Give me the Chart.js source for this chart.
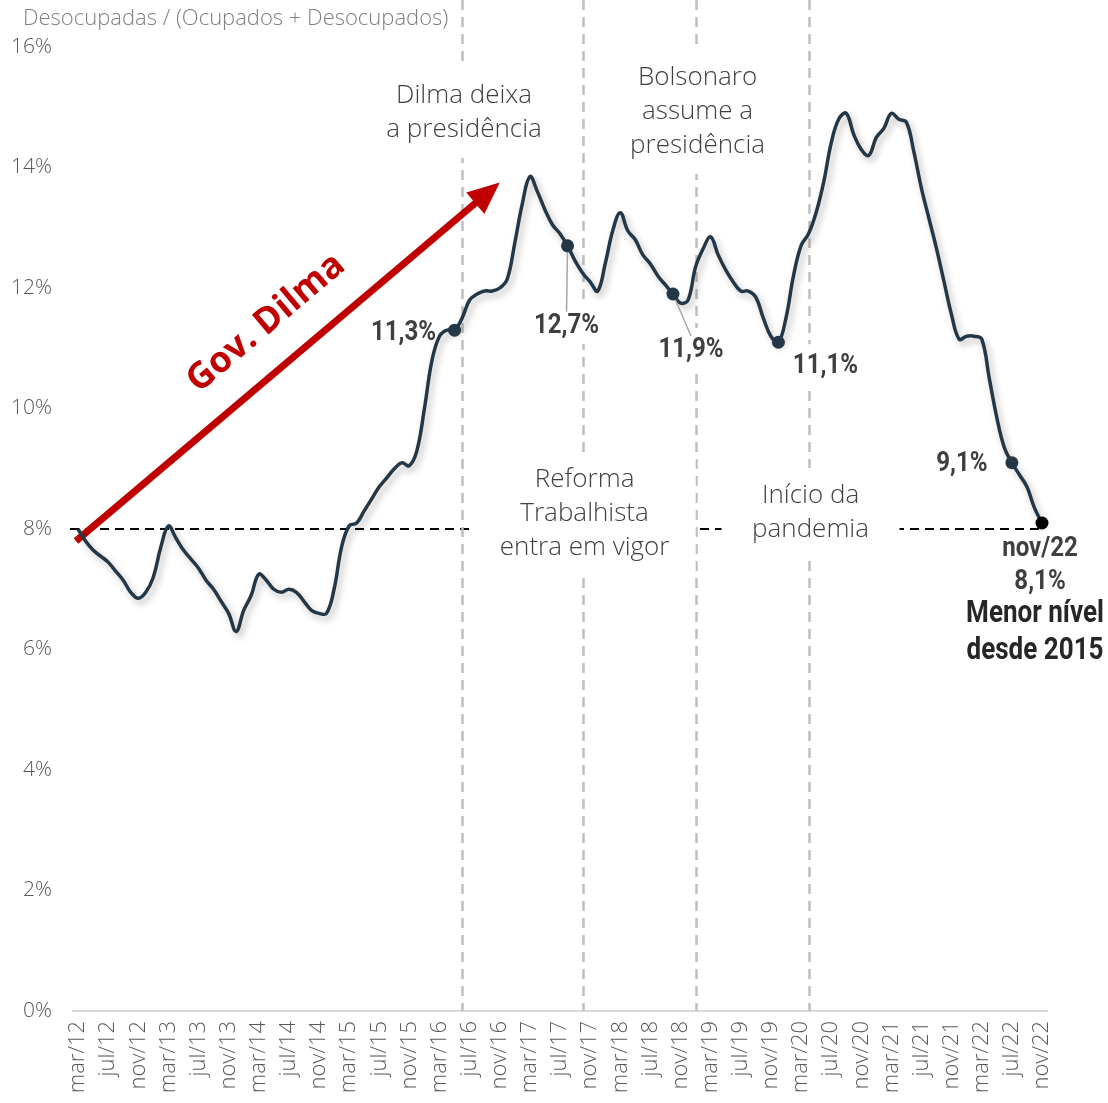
<!DOCTYPE html>
<html>
<head>
<meta charset="utf-8">
<script src="https://cdn.jsdelivr.net/npm/chart.js@4.4.1/dist/chart.umd.min.js"></script>
<style>
  body { margin: 0; background: #fff; }
  #wrap { width: 1108px; height: 1103px; }
</style>
</head>
<body>
<div id="wrap"><canvas id="myChart" width="1108" height="1103"></canvas></div>
<script>
// taxa de desocupação (%), mensal, mar/12 .. nov/22
const rate2012 = [8.0, 7.8, 7.65, 7.55, 7.45, 7.3, 7.15, 6.95, 6.85, 6.95];
const rate2013 = [7.2, 7.7, 8.05, 7.85, 7.65, 7.5, 7.35, 7.15, 7.0, 6.8, 6.6, 6.3];
const rate2014 = [6.65, 6.9, 7.25, 7.15, 7.0, 6.95, 7.0, 6.95, 6.8, 6.65, 6.6, 6.6];
const rate2015 = [7.0, 7.7, 8.05, 8.1, 8.3, 8.5, 8.7, 8.85, 9.0, 9.1, 9.05, 9.3];
const rate2016 = [10.0, 10.8, 11.2, 11.3, 11.3, 11.5, 11.8, 11.9, 11.95, 11.95, 12.0, 12.15];
const rate2017 = [12.75, 13.4, 13.85, 13.6, 13.3, 13.05, 12.9, 12.7, 12.45, 12.25, 12.1, 11.95];
const rate2018 = [12.4, 12.95, 13.25, 12.95, 12.8, 12.55, 12.4, 12.2, 12.05, 11.9, 11.75, 11.8];
const rate2019 = [12.35, 12.65, 12.85, 12.55, 12.3, 12.1, 11.95, 11.95, 11.85, 11.5, 11.2, 11.1];
const rate2020 = [11.5, 12.2, 12.7, 12.9, 13.25, 13.75, 14.4, 14.8, 14.9, 14.55, 14.3, 14.2];
const rate2021 = [14.5, 14.65, 14.9, 14.8, 14.75, 14.25, 13.65, 13.15, 12.65, 12.1, 11.55, 11.15];
const rate2022 = [11.2, 11.2, 11.15, 10.5, 9.85, 9.35, 9.1, 8.9, 8.7, 8.35, 8.1];

const monthNames = ['jan','fev','mar','abr','mai','jun','jul','ago','set','out','nov','dez'];
const tickLabels = ['mar/12','jul/12','nov/12','mar/13','jul/13','nov/13','mar/14','jul/14','nov/14',
  'mar/15','jul/15','nov/15','mar/16','jul/16','nov/16','mar/17','jul/17','nov/17','mar/18','jul/18',
  'nov/18','mar/19','jul/19','nov/19','mar/20','jul/20','nov/20','mar/21','jul/21','nov/21','mar/22',
  'jul/22','nov/22'];

const eventMonths = ['jun/16', 'out/17', 'jan/19', 'abr/20'];
const eventTexts = [
  ['Dilma deixa', 'a presidência'],
  ['Reforma', 'Trabalhista', 'entra em vigor'],
  ['Bolsonaro', 'assume a', 'presidência'],
  ['Início da', 'pandemia']
];
const highlightMonths = ['mai/16', 'ago/17', 'out/18', 'dez/19', 'jul/22', 'nov/22'];
const refLevel = 8;
const arrowFrom = ['mar/12', 7.9];
const arrowTo = ['nov/16', 13.75];
const finalNote = ['Menor nível', 'desde 2015'];

const rate = [].concat(rate2012, rate2013, rate2014, rate2015, rate2016, rate2017,
  rate2018, rate2019, rate2020, rate2021, rate2022);
const categories = rate.map((_, i) => {
  const m = 2 + i;
  return monthNames[m % 12] + '/' + (12 + Math.floor(m / 12));
});
const hiIdx = highlightMonths.map(m => categories.indexOf(m));
const lastIdx = rate.length - 1;

const LINE = '#243746';
const TXT = '#3f3f3f';
const LIGHT = '"Open Sans", "DejaVu Sans", sans-serif';

// layout of the annotation boxes: [text first line y, box width]
const eventBox = [[96, 170], [480, 222], [78, 160], [496, 178]];
// label offsets from marker: [dx, dy, leader]
const labelPos = [[-51, 3, false], [-1, 80, true], [18, 56, true], [47, 24, false], [-50, 1, false], [-2, 26, false]];

const fmt = v => v.toFixed(1).replace('.', ',') + '%';

// condensed bold text (narrow font not installed, so squeeze Roboto)
function condText(ctx, t, x, y, size, color, sx) {
  ctx.save();
  ctx.font = 'bold ' + size + 'px Roboto, sans-serif';
  ctx.fillStyle = color;
  ctx.textAlign = 'center';
  ctx.textBaseline = 'middle';
  ctx.translate(x, y);
  ctx.scale(sx, 1);
  ctx.fillText(t, 0, 0);
  ctx.restore();
}

const annot = {
  id: 'annot',
  beforeDatasetsDraw(chart) {
    const { ctx, chartArea: a, scales: { x, y } } = chart;
    const y0 = y.getPixelForValue(0);
    ctx.save();
    // x axis line
    ctx.strokeStyle = '#d9d9d9';
    ctx.lineWidth = 2;
    ctx.beginPath(); ctx.moveTo(a.left - 6, y0); ctx.lineTo(a.right + 6, y0); ctx.stroke();
    // reference 8% line
    const yr = y.getPixelForValue(refLevel);
    ctx.strokeStyle = '#000';
    ctx.lineWidth = 2;
    ctx.setLineDash([9, 6]);
    ctx.beginPath(); ctx.moveTo(a.left - 8, yr); ctx.lineTo(a.right, yr); ctx.stroke();
    // event lines
    ctx.strokeStyle = '#bfbfbf';
    ctx.lineWidth = 2.5;
    ctx.setLineDash([10, 7]);
    eventMonths.forEach(m => {
      const px = Math.round(x.getPixelForValue(categories.indexOf(m))) + 0.5;
      ctx.beginPath(); ctx.moveTo(px, 0); ctx.lineTo(px, y0); ctx.stroke();
    });
    ctx.setLineDash([]);
    // white boxes under the value labels (hide the event lines)
    ctx.font = 'bold 28px Roboto, sans-serif';
    hiIdx.forEach((i, k) => {
      if (i === lastIdx) return;
      const [dx, dy] = labelPos[k];
      const tx = x.getPixelForValue(i) + dx, ty = y.getPixelForValue(rate[i]) + dy;
      const w = ctx.measureText(fmt(rate[i])).width * 0.86;
      ctx.fillStyle = '#fff';
      ctx.fillRect(tx - w / 2 - 6, ty - 22, w + 12, 40);
    });
    // event notes on white boxes
    ctx.font = '300 26px ' + LIGHT;
    ctx.textAlign = 'center';
    ctx.textBaseline = 'middle';
    eventMonths.forEach((m, k) => {
      const px = x.getPixelForValue(categories.indexOf(m)) + 2;
      const [ty, w] = eventBox[k];
      const lines = eventTexts[k];
      const top = ty - 28, h = (lines.length - 1) * 34 + 56;
      ctx.fillStyle = '#fff';
      ctx.fillRect(px - w / 2, top, w, h);
      ctx.fillStyle = TXT;
      lines.forEach((t, j) => ctx.fillText(t, px, ty + j * 34));
    });
    // red arrow
    const x1 = x.getPixelForValue(categories.indexOf(arrowFrom[0])) - 2, y1 = y.getPixelForValue(arrowFrom[1]) + 6;
    const x2 = x.getPixelForValue(categories.indexOf(arrowTo[0])), y2 = y.getPixelForValue(arrowTo[1]);
    const ang = Math.atan2(y2 - y1, x2 - x1);
    const head = 32, hw = 14;
    const bx = x2 - head * Math.cos(ang), by = y2 - head * Math.sin(ang);
    ctx.strokeStyle = '#c00000';
    ctx.fillStyle = '#c00000';
    ctx.lineWidth = 7;
    ctx.beginPath(); ctx.moveTo(x1, y1); ctx.lineTo(bx + 2 * Math.cos(ang), by + 2 * Math.sin(ang)); ctx.stroke();
    ctx.beginPath();
    ctx.moveTo(x2, y2);
    ctx.lineTo(bx + hw * Math.sin(ang), by - hw * Math.cos(ang));
    ctx.lineTo(bx - hw * Math.sin(ang), by + hw * Math.cos(ang));
    ctx.closePath(); ctx.fill();
    // Gov. Dilma, parallel to the arrow
    ctx.translate(266, 323);
    ctx.rotate(ang);
    ctx.font = 'bold 36px "Open Sans", sans-serif';
    ctx.fillStyle = '#c00000';
    ctx.fillText('Gov. Dilma', 0, 0);
    ctx.restore();
  },
  beforeDatasetDraw(chart) {
    const ctx = chart.ctx;
    ctx.save();
    ctx.shadowColor = 'rgba(0,0,0,0.28)';
    ctx.shadowBlur = 7;
    ctx.shadowOffsetX = 3;
    ctx.shadowOffsetY = 4;
  },
  afterDatasetDraw(chart) {
    chart.ctx.restore();
  },
  afterDatasetsDraw(chart) {
    const { ctx, scales: { x, y } } = chart;
    ctx.save();
    hiIdx.forEach((i, k) => {
      const px = x.getPixelForValue(i), py = y.getPixelForValue(rate[i]);
      const [dx, dy, leader] = labelPos[k];
      const tx = px + dx, ty = py + dy;
      if (i === lastIdx) {
        condText(ctx, categories[i], tx, ty, 28, TXT, 0.86);
        condText(ctx, fmt(rate[i]), tx, ty + 33, 28, TXT, 0.86);
        condText(ctx, finalNote[0], tx - 5, ty + 65, 31, '#262626', 0.84);
        condText(ctx, finalNote[1], tx - 5, ty + 102, 31, '#262626', 0.84);
        return;
      }
      if (leader) {
        ctx.strokeStyle = '#a6a6a6';
        ctx.lineWidth = 1.5;
        ctx.beginPath(); ctx.moveTo(px, py); ctx.lineTo(tx, ty - 14); ctx.stroke();
      }
      condText(ctx, fmt(rate[i]), tx, ty, 28, TXT, 0.86);
    });
    // redraw markers on top of leader lines
    hiIdx.forEach(i => {
      ctx.beginPath();
      ctx.arc(x.getPixelForValue(i), y.getPixelForValue(rate[i]), 6.5, 0, Math.PI * 2);
      ctx.fillStyle = i === lastIdx ? '#000' : LINE;
      ctx.fill();
    });
    // axis title
    ctx.textAlign = 'left';
    ctx.textBaseline = 'middle';
    ctx.font = '300 22px ' + LIGHT;
    ctx.fillStyle = '#7f7f7f';
    ctx.fillText('Desocupadas / (Ocupados + Desocupados)', 23, 19);
    ctx.restore();
  }
};

new Chart(document.getElementById('myChart').getContext('2d'), {
  type: 'line',
  data: {
    labels: categories,
    datasets: [{
      data: rate,
      borderColor: LINE,
      borderWidth: 3.5,
      tension: 0.4,
      fill: false,
      pointRadius: 0,
      clip: false
    }]
  },
  options: {
    responsive: false,
    animation: false,
    layout: { padding: { top: 47, right: 66, bottom: 0, left: 0 } },
    plugins: { legend: { display: false }, tooltip: { enabled: false } },
    scales: {
      x: {
        offset: false,
        grid: { display: false, drawTicks: false },
        border: { display: false },
        ticks: {
          autoSkip: false,
          minRotation: 90,
          maxRotation: 90,
          padding: 10,
          color: '#595959',
          font: { family: LIGHT, size: 22, weight: 300 },
          callback: function (v) {
            const l = this.getLabelForValue(v);
            return tickLabels.includes(l) ? l : '';
          }
        },
        afterFit: s => { s.height = 92; }
      },
      y: {
        min: 0,
        max: 16,
        grid: { display: false, drawTicks: false },
        border: { display: false },
        ticks: {
          stepSize: 2,
          padding: 26,
          color: '#595959',
          font: { family: LIGHT, size: 21, weight: 300 },
          callback: v => v + '%'
        },
        afterFit: s => { s.width = 78; }
      }
    }
  },
  plugins: [annot]
});
</script>
</body>
</html>
